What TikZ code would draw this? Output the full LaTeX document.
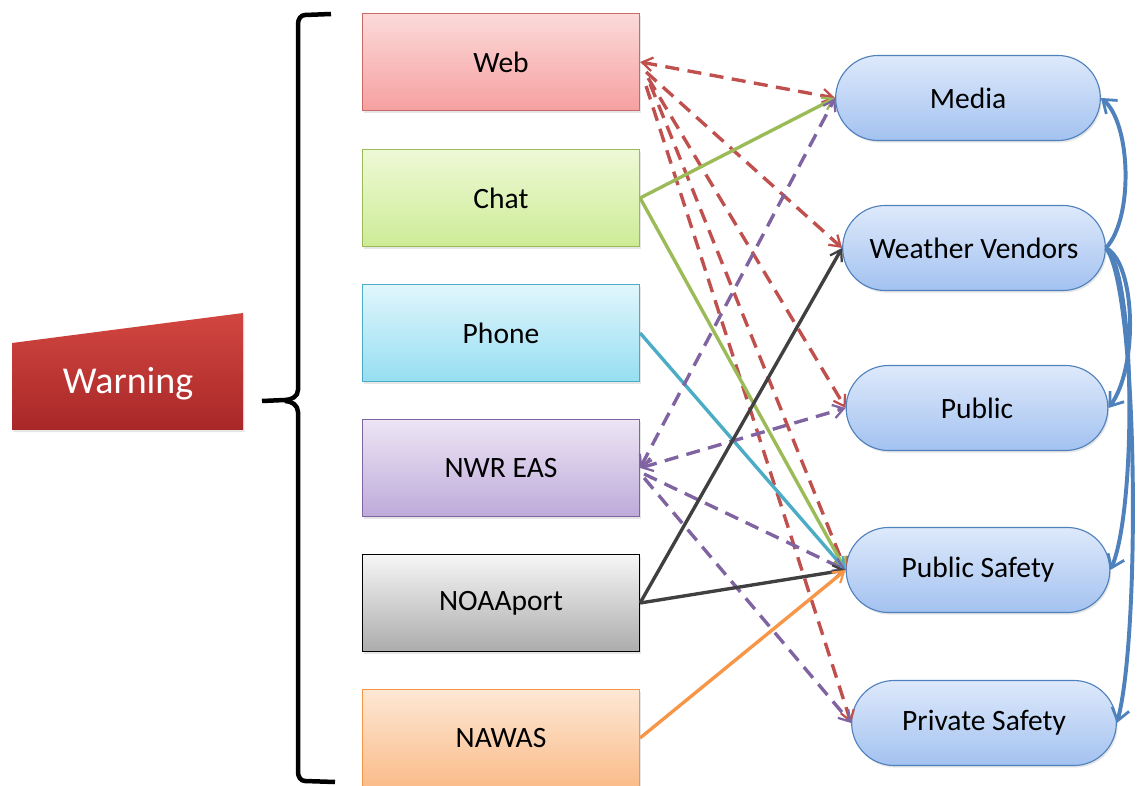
\documentclass[tikz,border=0pt]{standalone}
\usepackage{fontspec}
\setmainfont{Carlito}
\usetikzlibrary{arrows.meta,shapes.misc,shadows}

\definecolor{webline}{RGB}{192,80,77}
\definecolor{chatline}{RGB}{155,187,89}
\definecolor{phoneline}{RGB}{75,172,198}
\definecolor{nwrline}{RGB}{128,100,162}
\definecolor{noaaline}{RGB}{64,64,64}
\definecolor{nawasline}{RGB}{247,150,70}
\definecolor{pillline}{RGB}{79,129,189}

\tikzset{
  box/.style={rectangle, draw, line width=0.8pt, minimum width=6.925cm, minimum height=2.425cm,
    font=\fontsize{21}{25}\selectfont, drop shadow={opacity=0.2, shadow xshift=1pt, shadow yshift=-1.5pt}},
  pill/.style={rounded rectangle, draw=pillline, line width=0.8pt, top color={rgb,255:red,222;green,233;blue,251},
    bottom color={rgb,255:red,163;green,194;blue,240}, minimum height=2.125cm,
    font=\fontsize{21}{25}\selectfont, drop shadow={opacity=0.2, shadow xshift=1pt, shadow yshift=-1.5pt}},
  barb/.tip={Straight Barb[length=2.6mm, width=3.4mm, line width=1.6pt]},
  link/.style={-barb, line width=2.4pt},
  dlink/.style={link, dash pattern=on 10pt off 6pt},
  both/.style={barb-barb},
  spread/.style={line width=2.8pt, draw=pillline, -{Straight Barb[length=3mm, width=4.4mm, line width=2pt]}},
}

\begin{document}
\begin{tikzpicture}[x=0.025cm, y=-0.025cm]
        \useasboundingbox (0,0) rectangle (1138,786);

        % warning block and brace
        \shade [top color={rgb,255:red,210;green,70;blue,64}, bottom color={rgb,255:red,168;green,40;blue,40},
          drop shadow={opacity=0.2, shadow xshift=1pt, shadow yshift=-1.5pt}]
          (12,343) -- (243,313) -- (243,430) -- (12,430) -- cycle;
        \node [text=white, font=\fontsize{27}{32}\selectfont] at (128,384) (warn) {Warning};
        \draw [line width=3.2pt, line join=round]
          (331,14) -- (305,15) to[out=180, in=90] (298,24) -- (298,390)
          to[out=-90, in=0] (285,400) -- (262,401);
        \draw [line width=3.2pt, line join=round]
          (285,401) to[out=0, in=90] (298,412) -- (298,772) to[out=-90, in=180] (305,781) -- (335,782);

        % sources
        \node [box, draw=webline!85, top color={rgb,255:red,252;green,218;blue,218}, bottom color={rgb,255:red,246;green,160;blue,160}] at (501,62) (web) {Web};
        \node [box, draw=chatline, top color={rgb,255:red,238;green,249;blue,214}, bottom color={rgb,255:red,205;green,236;blue,150}] at (501,198) (chat) {Chat};
        \node [box, draw=phoneline, top color={rgb,255:red,224;green,246;blue,252}, bottom color={rgb,255:red,150;green,222;blue,242}] at (501,333) (phone) {Phone};
        \node [box, draw=nwrline, top color={rgb,255:red,236;green,229;blue,244}, bottom color={rgb,255:red,190;green,170;blue,218}] at (501,468) (nwr) {NWR EAS};
        \node [box, draw=black, top color={rgb,255:red,246;green,246;blue,246}, bottom color={rgb,255:red,172;green,172;blue,172}] at (501,603) (noaa) {NOAAport};
        \node [box, draw=nawasline, top color={rgb,255:red,253;green,232;blue,212}, bottom color={rgb,255:red,250;green,188;blue,138}] at (501,738) (nawas) {NAWAS};

        % receivers
        \node [pill, minimum width=6.85cm] at (968,98) (media) {Media};
        \node [pill, minimum width=6.8cm] at (974,248) (vendors) {Weather Vendors};
        \node [pill, minimum width=6.775cm] at (977,408) (public) {Public};
        \node [pill, minimum width=6.825cm] at (978,570) (psafety) {Public Safety};
        \node [pill, minimum width=6.85cm] at (984,723) (private) {Private Safety};

        % web
        \draw [dlink, both, webline] (web.east) -- (media.west);
        \draw [dlink, webline] ([shift={(6,10)}]web.east) -- (vendors.west);
        \draw [dlink, webline] ([shift={(8,16)}]web.east) -- (public.west);
        \draw [dlink, webline] ([shift={(10,22)}]web.east) -- (psafety.west);
        \draw [dlink, webline] ([shift={(6,24)}]web.east) -- (private.west);

        % chat
        \draw [link, chatline] (chat.east) -- (media.west);
        \draw [link, chatline] (chat.east) -- (psafety.west);

        % phone
        \draw [link, phoneline] (phone.east) -- (psafety.west);

        % nwr eas
        \draw [dlink, both, nwrline] (nwr.east) -- (media.west);
        \draw [dlink, both, nwrline] (nwr.east) -- (public.west);
        \draw [dlink, nwrline] ([shift={(4,6)}]nwr.east) -- (psafety.west);
        \draw [dlink, nwrline] ([shift={(4,10)}]nwr.east) -- (private.west);

        % noaaport
        \draw [link, noaaline] (noaa.east) -- (vendors.west);
        \draw [link, noaaline] (noaa.east) -- (psafety.west);

        % nawas
        \draw [link, nawasline] (nawas.east) -- (psafety.west);

        % vendors pass it on
        \draw [spread] (vendors.east) .. controls +(28,-30) and +(30,25) .. (media.east);
        \draw [spread] (vendors.east) .. controls +(30,15) and +(30,-40) .. (public.east);
        \draw [spread] (vendors.east) .. controls +(30,25) and +(26,-60) .. (psafety.east);
        \draw [spread] (vendors.east) .. controls +(32,40) and +(24,-90) .. (private.east);
\end{tikzpicture}
\end{document}
